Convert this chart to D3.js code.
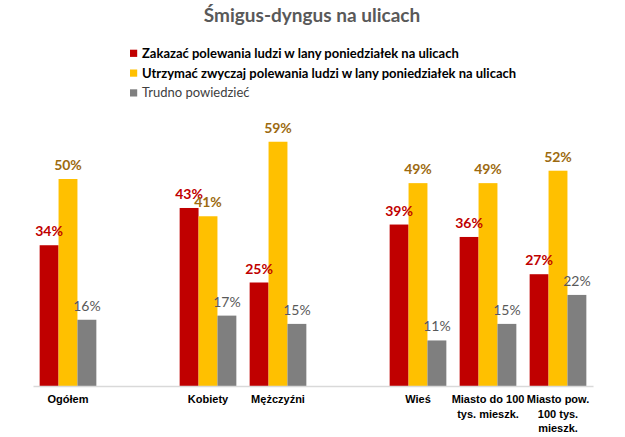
<!DOCTYPE html>
<html><head><meta charset="utf-8">
<script src="https://cdn.jsdelivr.net/npm/d3@7"></script>
<style>
body{margin:0;background:#fff;}
svg{display:block;font-family:Lato, "Open Sans", sans-serif;}
</style></head>
<body><svg id="c" width="625" height="437"></svg>
<script>
const categories = ["Ogółem", "", "Kobiety", "Mężczyźni", "", "Wieś", "Miasto do 100 tys. mieszk.", "Miasto pow. 100 tys. mieszk."];
const tickLines = [["Ogółem"], [], ["Kobiety"], ["Mężczyźni"], [], ["Wieś"], ["Miasto do 100", "tys. mieszk."], ["Miasto pow.", "100 tys.", "mieszk."]];
const seriesNames = ["Zakazać polewania ludzi w lany poniedziałek na ulicach", "Utrzymać zwyczaj polewania ludzi w lany poniedziałek na ulicach", "Trudno powiedzieć"];
const zakazac = [34, null, 43, 25, null, 39, 36, 27];
const utrzymac = [50, null, 41, 59, null, 49, 49, 52];
const trudno = [16, null, 17, 15, null, 11, 15, 22];
const titleText = "Śmigus-dyngus na ulicach";

const seriesValues = [zakazac, utrzymac, trudno];
const colors = ["#C00000", "#FFC000", "#7F7F7F"];
const labelColors = ["#C00000", "#9C6A10", "#595959"];
const labelWeights = ["bold", "bold", "normal"];
const legendColors = ["#000000", "#000000", "#404040"];

const svg = d3.select("#c");
const baseY = 386;
const keys = categories.map((d, i) => i);
const x0 = d3.scaleBand().domain(keys).range([33, 593]).paddingInner(0.19).paddingOuter(0.095);
const x1 = d3.scaleBand().domain([0, 1, 2]).range([0, x0.bandwidth()]);
const y = d3.scaleLinear().domain([0, 70]).range([baseY, baseY - 70 * 4.14]);

// title
svg.append("text").attr("x", 312).attr("y", 22).attr("text-anchor", "middle")
  .attr("font-size", 19).attr("font-weight", "bold").attr("fill", "#595959").text(titleText);

// legend
const leg = svg.append("g");
seriesNames.forEach((name, i) => {
  const g = leg.append("g").attr("transform", `translate(130,${53.3 + i * 19.8})`);
  g.append("rect").attr("x", 0).attr("y", -3.6).attr("width", 7.2).attr("height", 7.2).attr("fill", colors[i]);
  g.append("text").attr("x", 12).attr("y", 4.5).attr("font-size", 13)
    .attr("font-weight", i < 2 ? "bold" : "normal").attr("fill", legendColors[i]).text(name);
});

// bars
const groups = svg.append("g").selectAll("g").data(keys).join("g")
  .attr("transform", d => `translate(${x0(d)},0)`);
seriesValues.forEach((vals, s) => {
  groups.filter(d => vals[d] != null).append("rect")
    .attr("x", x1(s)).attr("width", x1.bandwidth())
    .attr("y", d => y(vals[d])).attr("height", d => baseY - y(vals[d]))
    .attr("fill", colors[s]);
});
seriesValues.forEach((vals, s) => {
  groups.filter(d => vals[d] != null).append("text")
    .attr("x", x1(s) + x1.bandwidth() / 2).attr("y", d => y(vals[d]) - 9)
    .attr("text-anchor", "middle").attr("font-size", 14)
    .attr("font-weight", labelWeights[s]).attr("fill", labelColors[s])
    .text(d => vals[d] + "%");
});

// axis
const axis = svg.append("g").attr("transform", `translate(0,${baseY})`)
  .call(d3.axisBottom(x0).tickSize(0).tickSizeOuter(0).tickFormat(() => ""));
axis.select(".domain").attr("stroke", "#D9D9D9").attr("stroke-width", 1.3);
axis.selectAll(".tick text").remove();
axis.selectAll(".tick").append("text")
  .attr("text-anchor", "middle").attr("font-size", 11).attr("font-weight", "bold").attr("fill", "#000")
  .each(function (d) {
    const t = d3.select(this);
    tickLines[d].forEach((line, j) => {
      t.append("tspan").attr("x", 0).attr("y", 17 + j * 14.5).text(line);
    });
  });
</script></body></html>
